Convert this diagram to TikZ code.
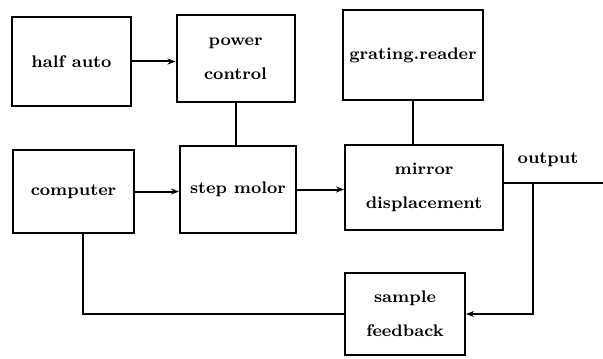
\documentclass[tikz,border=0pt]{standalone}
\usetikzlibrary{arrows.meta}
\begin{document}
\begin{tikzpicture}[x=0.5pt,y=-0.5pt,>={Stealth[length=4pt,width=3pt]},line width=1pt,
  font=\fontsize{8.4}{17}\selectfont\bfseries,
  blk/.style={draw,align=center,inner sep=0pt}]
\useasboundingbox (0,0) rectangle (603,358);
\node[blk,minimum width=59.5pt,minimum height=44.5pt] (half) at (71.5,61.5) {half auto};
\node[blk,minimum width=59pt,minimum height=43.5pt] (power) at (235.5,58.5) {power\\control};
\node[blk,minimum width=70pt,minimum height=45pt] (grating) at (413,55) {grating.reader};
\node[blk,minimum width=60.5pt,minimum height=41.5pt] (computer) at (73.5,191.5) {computer};
\node[blk,minimum width=58pt,minimum height=43.5pt] (step) at (238,189.5) {step molor};
\node[blk,minimum width=79pt,minimum height=42.5pt] (mirror) at (424,187.5) {mirror\\displacement};
\node[blk,minimum width=60pt,minimum height=41pt] (sample) at (405,314) {sample\\feedback};
\node (outlbl) at (548,160) {output};
\coordinate (out) at (603,183);
\coordinate (tap) at (533,183);
\draw[->] (half) -- (half -| power.west);
\draw (power.south) -- (power.south |- step.north);
\draw (grating.south) -- (grating.south |- mirror.north);
\draw[->] (computer) -- (computer -| step.west);
\draw[->] (step) -- (step -| mirror.west);
\draw (mirror.east |- out) -- (out);
\draw[->] (tap) |- (sample.east);
\draw ([xshift=4.75pt]computer.south) |- (sample.west);
\end{tikzpicture}
\end{document}
